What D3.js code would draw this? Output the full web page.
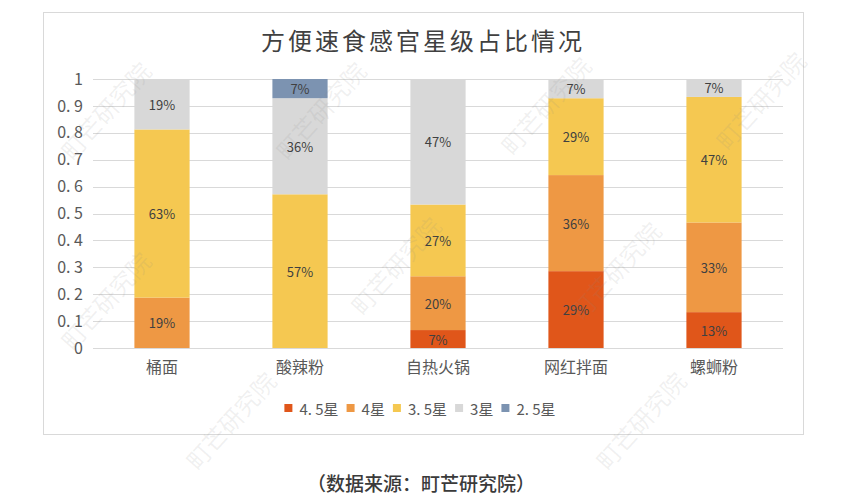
<!DOCTYPE html>
<html><head><meta charset="utf-8">
<script src="https://cdn.jsdelivr.net/npm/d3@7"></script>
<style>
html,body{margin:0;padding:0;background:#fff;}
svg{display:block;font-family:"Noto Sans CJK SC","Noto Sans",sans-serif;}
</style></head>
<body><svg id="chart" width="850" height="497"></svg>
<script>
const title = "方便速食感官星级占比情况";
const source = "（数据来源：町芒研究院）";
const categories = ["桶面", "酸辣粉", "自热火锅", "网红拌面", "螺蛳粉"];
const seriesNames = ["4. 5星", "4星", "3. 5星", "3星", "2. 5星"];
const seriesColors = ["#E0561A", "#EE9844", "#F5C851", "#D8D8D8", "#7C93B1"];
// share of each star level per category (fractions)
const s45 = [0, 0, 0.0667, 0.2857, 0.1333];
const s40 = [0.1875, 0, 0.2000, 0.3571, 0.3333];
const s35 = [0.6250, 0.5714, 0.2667, 0.2857, 0.4667];
const s30 = [0.1875, 0.3572, 0.4666, 0.0715, 0.0667];
const s25 = [0, 0.0714, 0, 0, 0];
const yTicks = [0, 0.1, 0.2, 0.3, 0.4, 0.5, 0.6, 0.7, 0.8, 0.9, 1];
const yTickLabels = ["0", "0. 1", "0. 2", "0. 3", "0. 4", "0. 5", "0. 6", "0. 7", "0. 8", "0. 9", "1"];
const watermarkText = "町芒研究院";

const svg = d3.select("#chart");

// frame
svg.append("rect").attr("x", 43.5).attr("y", 12.5).attr("width", 760).attr("height", 422)
  .attr("fill", "none").attr("stroke", "#d9d9d9").attr("stroke-width", 1);

// title
svg.append("text").attr("x", 423).attr("y", 39).attr("text-anchor", "middle")
  .attr("dominant-baseline", "central").attr("font-size", 24).attr("letter-spacing", 3)
  .attr("fill", "#404040").text(title);

const x = d3.scaleBand().domain(categories).range([93, 783]).paddingInner(0.6).paddingOuter(0.3);
const y = d3.scaleLinear().domain([0, 1]).range([348, 79]);

// gridlines
svg.append("g").selectAll("line").data(yTicks).join("line")
  .attr("x1", 93).attr("x2", 783)
  .attr("y1", d => Math.round(y(d)) + 0.5).attr("y2", d => Math.round(y(d)) + 0.5)
  .attr("stroke", "#d9d9d9").attr("stroke-width", 1);

// y axis labels
const yAxis = d3.axisLeft(y).tickValues(yTicks).tickFormat((d, i) => yTickLabels[i]).tickSize(0).tickPadding(10);
const gy = svg.append("g").attr("transform", "translate(93,0)").call(yAxis);
gy.select(".domain").remove();
gy.selectAll("text").attr("font-size", 16).attr("fill", "#595959").attr("font-family", "'Noto Sans CJK SC',sans-serif");

// x axis labels
const xAxis = d3.axisBottom(x).tickSize(0).tickPadding(14);
const gx = svg.append("g").attr("transform", "translate(0,348)").call(xAxis);
gx.select(".domain").remove();
gx.selectAll("text").attr("font-size", 16).attr("fill", "#595959").attr("font-family", "'Noto Sans CJK SC',sans-serif");

// stack
const seriesArrays = [s45, s40, s35, s30, s25];
const rows = categories.map((c, i) => {
  const r = {cat: c};
  seriesNames.forEach((s, k) => r[s] = seriesArrays[k][i]);
  return r;
});
const stacked = d3.stack().keys(seriesNames)(rows);

const layers = svg.append("g").selectAll("g").data(stacked).join("g")
  .attr("fill", (d, i) => seriesColors[i]);
layers.selectAll("rect").data(d => d).join("rect")
  .attr("x", d => x(d.data.cat))
  .attr("width", x.bandwidth())
  .attr("y", d => y(d[1]))
  .attr("height", d => y(d[0]) - y(d[1]));

// data labels
const lab = svg.append("g");
stacked.forEach((layer, k) => {
  layer.forEach(d => {
    const v = d[1] - d[0];
    if (v <= 0) return;
    lab.append("text")
      .attr("x", x(d.data.cat) + x.bandwidth() / 2)
      .attr("y", (y(d[0]) + y(d[1])) / 2)
      .attr("text-anchor", "middle").attr("dominant-baseline", "central")
      .attr("font-size", 13).attr("fill", "#404040")
      .text(Math.round(v * 100) + "%");
  });
});

// legend
const lg = svg.append("g");
const items = lg.selectAll("g").data(seriesNames).join("g");
items.append("rect").attr("width", 8).attr("height", 8).attr("y", -4)
  .attr("fill", (d, i) => seriesColors[i]);
items.append("text").attr("x", 15).attr("dominant-baseline", "central")
  .attr("font-size", 15).attr("fill", "#595959").text(d => d);
let cx = 0;
items.each(function() {
  const g = d3.select(this);
  g.attr("transform", `translate(${cx},0)`);
  const w = 15 + g.select("text").node().getComputedTextLength();
  cx += w + 8;
});
const total = cx - 8;
lg.attr("transform", `translate(${423 - total / 2 - 3},408)`);

// source
svg.append("text").attr("x", 421).attr("y", 482).attr("text-anchor", "middle")
  .attr("dominant-baseline", "central").attr("font-size", 19).attr("font-weight", 500).attr("fill", "#3a3a3a")
  .text(source);

// watermark (on top, faint)
const wmPos = [[105,110],[320,110],[545,105],[760,100],[395,265],[615,270],[105,300],[230,420],[640,420]];
svg.append("g").attr("pointer-events", "none").selectAll("text").data(wmPos).join("text")
  .attr("transform", d => `translate(${d[0]},${d[1]}) rotate(-48)`)
  .attr("text-anchor", "middle").attr("dominant-baseline", "central")
  .attr("font-size", 24).attr("fill", "#888").attr("fill-opacity", 0.12)
  .text(watermarkText);
</script></body></html>
